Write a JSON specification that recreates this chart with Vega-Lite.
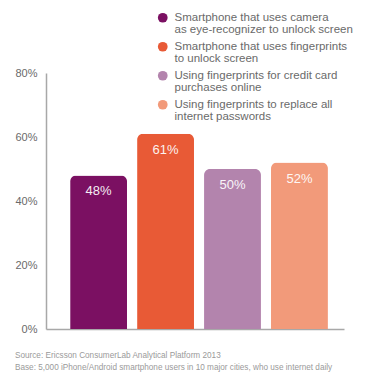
{
  "$schema": "https://vega.github.io/schema/vega-lite/v6.json",
  "width": 298,
  "height": 256,
  "autosize": "none",
  "padding": {"left": 46, "top": 73, "right": 27, "bottom": 59},
  "background": "white",
  "config": {
    "view": {"stroke": null},
    "font": "Liberation Sans"
  },
  "title": {
    "text": ["Source: Ericsson ConsumerLab Analytical Platform 2013", "Base: 5,000 iPhone/Android smartphone users in 10 major cities, who use internet daily"],
    "orient": "bottom",
    "anchor": "start",
    "frame": "bounds",
    "fontSize": 8.2,
    "fontWeight": "normal",
    "color": "#9a9a9a",
    "lineHeight": 12,
    "offset": 18
  },
  "data": {
    "values": [
      {"cat": "Smartphone that uses camera|as eye-recognizer to unlock screen", "order": 1, "value": 0.48},
      {"cat": "Smartphone that uses fingerprints|to unlock screen", "order": 2, "value": 0.61},
      {"cat": "Using fingerprints for credit card|purchases online", "order": 3, "value": 0.50},
      {"cat": "Using fingerprints to replace all|internet passwords", "order": 4, "value": 0.52}
    ]
  },
  "encoding": {
    "x": {
      "field": "cat",
      "type": "nominal",
      "sort": {"field": "order"},
      "scale": {"paddingInner": 0.15, "paddingOuter": 0.3, "align": 0.6},
      "axis": {"title": null, "labels": false, "ticks": false, "domainColor": "#a8a8a8", "domainWidth": 1.5}
    },
    "y": {
      "field": "value",
      "type": "quantitative",
      "scale": {"domain": [0, 0.8]},
      "axis": {
        "title": null,
        "values": [0, 0.2, 0.4, 0.6, 0.8],
        "format": ".0%",
        "ticks": false,
        "grid": false,
        "labelPadding": 9,
        "labelFontSize": 11,
        "labelColor": "#6a6a6a",
        "domainColor": "#a8a8a8",
        "domainWidth": 1.5
      }
    }
  },
  "layer": [
    {
      "mark": {"type": "bar", "cornerRadiusTopLeft": 6, "cornerRadiusTopRight": 6},
      "encoding": {
        "color": {
          "field": "cat",
          "type": "nominal",
          "sort": {"field": "order"},
          "scale": {"range": ["#7b1062", "#e85a36", "#b384ad", "#f29a7a"]},
          "legend": {
            "title": null,
            "orient": "none",
            "legendX": 111,
            "legendY": -61,
            "symbolType": "circle",
            "symbolSize": 95,
            "symbolStrokeWidth": 0,
            "labelExpr": "split(datum.label, '|')",
            "labelFontSize": 11.5,
            "labelColor": "#6a6a6a",
            "labelLimit": 300,
            "labelBaseline": "middle",
            "labelOffset": 6,
            "rowPadding": 4,
            "symbolOffset": 0,
            "encode": {"labels": {"update": {"lineHeight": {"value": 12.5}}}}
          }
        }
      }
    },
    {
      "mark": {"type": "text", "baseline": "middle", "dy": 16, "color": "white", "fontSize": 13, "opacity": 0.92},
      "encoding": {
        "text": {"field": "value", "type": "quantitative", "format": ".0%"},
        "y": {"field": "value", "type": "quantitative"}
      }
    }
  ]
}
